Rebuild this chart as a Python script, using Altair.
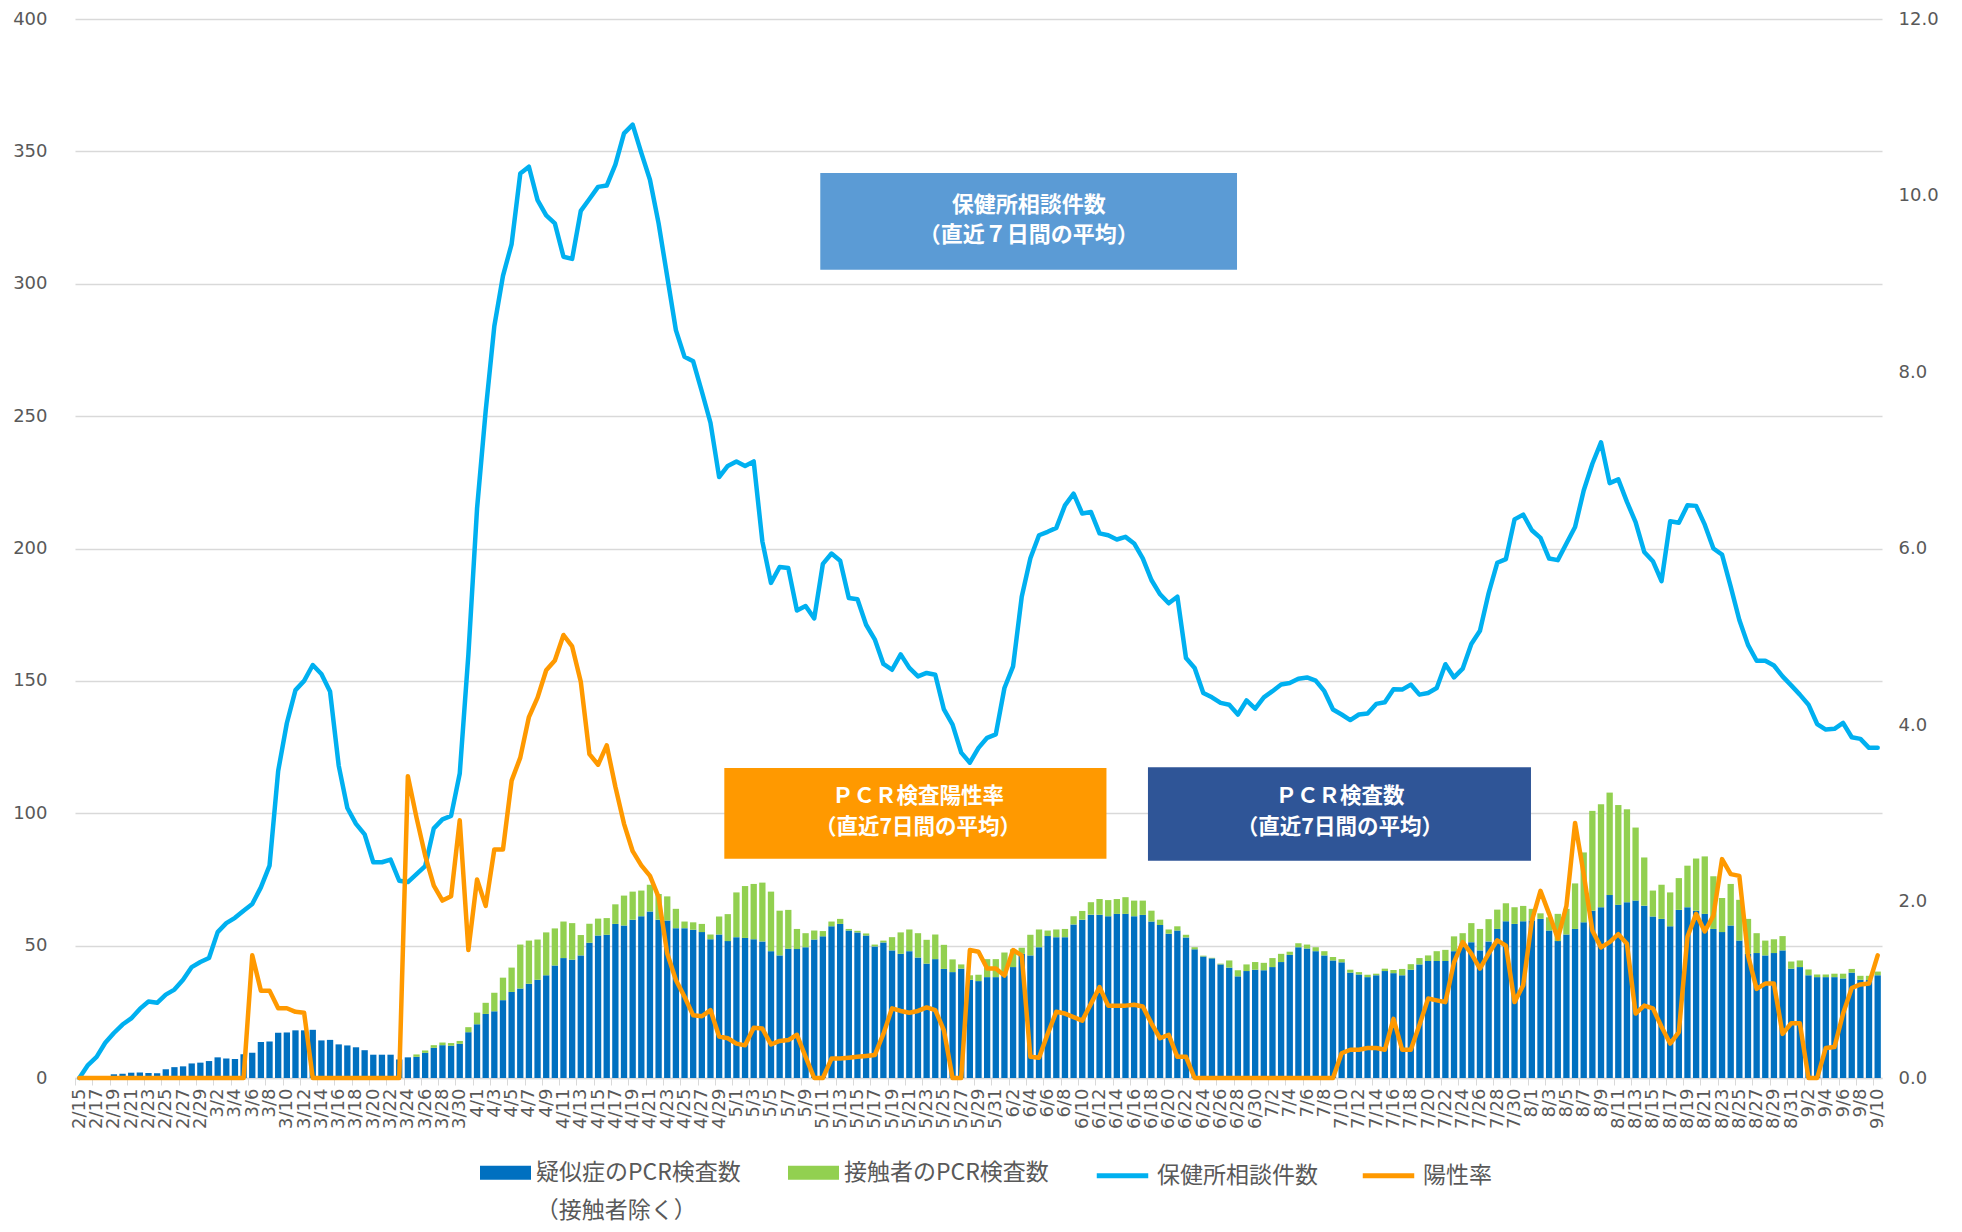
import json
import altair as alt
import pandas as pd

# ---- categories -------------------------------------------------------------
dates = [f"{d.month}/{d.day}" for d in pd.date_range("2020-02-15", "2020-09-10", freq="D")]

BAR_SERIES = ["疑似症のPCR検査数", "接触者のPCR検査数"]
LINE_SERIES = ["保健所相談件数", "陽性率"]

# ---- series values ---------------------------------------------------------
suspect_pcr = [
    0, 0.2, 0.3, 0.5, 1.4, 1.6, 2.0, 2.1, 1.9, 1.8,
    3.3, 4.1, 4.4, 5.5, 5.8, 6.4, 7.8, 7.4, 7.2, 9.0,
    9.5, 13.6, 13.8, 17.1, 17.2, 18.0, 18.0, 18.2, 14.2, 14.4,
    12.7, 12.3, 11.6, 10.5, 8.8, 8.8, 8.8, 7.0, 7.8, 8.0,
    9.5, 11.4, 12.4, 12.2, 12.9, 17.3, 20.3, 24.2, 25.2, 29.4,
    32.5, 33.8, 35.6, 37.1, 38.8, 42.5, 45.3, 44.7, 46.3, 51.1,
    53.8, 54.1, 58.2, 57.6, 59.8, 61.1, 62.9, 59.8, 59.5, 56.6,
    56.6, 56.0, 55.1, 52.4, 54.2, 51.7, 53.2, 52.9, 52.4, 51.6,
    47.9, 46.3, 48.8, 48.7, 49.4, 52.3, 53.5, 57.3, 58.2, 55.7,
    55.0, 53.8, 49.7, 51.2, 48.2, 46.9, 47.9, 45.5, 43.2, 44.9,
    41.2, 40.0, 41.3, 37.1, 36.6, 38.1, 38.1, 38.8, 41.9, 46.9,
    46.3, 49.4, 53.6, 53.2, 53.2, 58.0, 59.8, 61.7, 61.7, 61.1,
    62.0, 62.0, 61.1, 61.6, 59.1, 57.8, 54.5, 55.7, 53.1, 48.6,
    45.9, 45.2, 42.9, 41.7, 38.4, 40.4, 40.9, 40.7, 41.9, 43.8,
    46.5, 49.4, 48.9, 47.9, 46.3, 44.4, 43.7, 39.8, 39.1, 38.1,
    38.8, 40.4, 39.6, 38.8, 40.9, 42.9, 44.2, 44.2, 44.2, 47.9,
    50.9, 51.3, 48.2, 51.6, 56.3, 59.2, 58.2, 59.2, 59.5, 60.1,
    55.7, 51.7, 54.2, 56.3, 58.8, 63.2, 64.5, 69.1, 65.4, 66.4,
    67.0, 65.1, 61.0, 60.1, 57.3, 63.5, 64.5, 63.2, 62.0, 56.3,
    55.1, 57.6, 51.9, 46.9, 47.2, 46.3, 47.2, 48.2, 41.3, 41.9,
    38.8, 38.1, 38.1, 38.1, 37.6, 39.8, 37.1, 37.0, 38.8,
]

contact_pcr = [
    0, 0, 0, 0, 0, 0, 0, 0, 0, 0,
    0, 0, 0, 0, 0, 0, 0, 0, 0, 0,
    0, 0, 0, 0, 0, 0, 0, 0, 0, 0,
    0, 0, 0, 0, 0, 0, 0, 0, 0, 0.9,
    0.9, 1.0, 1.0, 1.0, 1.1, 1.9, 4.4, 4.2, 7.0, 8.5,
    9.2, 16.6, 16.3, 15.2, 16.2, 14.0, 13.8, 13.8, 7.7, 7.2,
    6.4, 6.3, 7.4, 11.3, 10.6, 9.7, 10.1, 9.7, 9.1, 7.3,
    2.5, 2.8, 3.1, 1.8, 6.8, 10.2, 16.9, 19.6, 20.9, 22.2,
    22.5, 16.9, 14.7, 7.6, 5.3, 3.4, 2.0, 1.8, 1.9, 0.6,
    0.6, 0.8, 0.7, 0.7, 5.0, 8.1, 8.2, 9.2, 9.0, 9.3,
    9.1, 4.8, 1.6, 1.7, 2.4, 6.8, 6.8, 8.6, 6.7, 2.3,
    7.8, 6.7, 2.1, 2.9, 3.1, 3.1, 3.3, 4.7, 5.9, 6.1,
    5.6, 6.3, 5.9, 5.4, 4.1, 2.0, 1.6, 1.6, 1.0, 0.8,
    0.3, 0.2, 0.3, 2.7, 2.3, 2.5, 2.9, 2.8, 3.4, 3.1,
    1.2, 1.5, 1.5, 1.5, 1.6, 1.3, 1.2, 1.1, 0.9, 0.9,
    0.6, 0.9, 1.2, 2.4, 2.1, 2.4, 2.1, 3.7, 4.2, 5.6,
    3.8, 7.2, 8.1, 8.4, 7.3, 6.8, 6.3, 5.8, 4.4, 2.1,
    5.0, 10.3, 9.7, 17.2, 26.4, 37.7, 38.9, 38.7, 37.7, 35.1,
    27.6, 18.2, 9.8, 12.9, 12.8, 12.0, 15.7, 19.7, 21.7, 19.9,
    12.9, 15.7, 15.4, 13.2, 7.5, 5.6, 5.2, 5.4, 2.7, 2.5,
    2.2, 1.0, 1.0, 1.3, 1.8, 1.4, 1.5, 1.6, 1.4,
]

consultations = [
    0, 4.9, 8.0, 13.3, 17.0, 20.2, 22.5, 26.1, 28.9, 28.4,
    31.5, 33.4, 37.1, 41.9, 43.8, 45.3, 55.1, 58.5, 60.5, 63.2,
    65.7, 72.0, 80.2, 116.0, 134.0, 146.5, 150.0, 156.0, 152.6, 146.0,
    118.0, 102.0, 96.0, 92.0, 81.5, 81.5, 82.5, 74.5, 74.0, 77.0,
    80.0, 94.3, 97.7, 99.0, 115.0, 160.0, 215.0, 252.0, 284.0, 303.0,
    315.0, 341.6, 344.2, 331.6, 325.8, 322.8, 310.2, 309.4, 327.5, 332.0,
    336.6, 337.1, 345.0, 356.8, 360.1, 349.4, 339.3, 322.8, 302.7, 282.5,
    272.4, 270.7, 259.3, 247.5, 227.0, 231.2, 232.9, 231.2, 232.9, 202.7,
    187.0, 193.0, 192.6, 176.6, 178.3, 173.6, 194.2, 198.1, 195.4, 181.3,
    180.8, 171.2, 165.7, 156.4, 154.2, 160.0, 154.9, 151.7, 153.0, 152.3,
    139.2, 133.5, 122.9, 119.1, 124.7, 128.5, 129.8, 147.3, 155.5, 181.8,
    196.3, 205.0, 206.3, 207.8, 216.3, 220.7, 213.2, 213.8, 205.7, 205.0,
    203.4, 204.4, 201.9, 196.3, 188.1, 182.7, 179.3, 181.8, 158.6, 154.9,
    145.4, 143.8, 141.7, 141.0, 137.3, 142.6, 139.5, 143.8, 146.1, 148.6,
    149.2, 150.8, 151.3, 150.1, 146.1, 139.2, 137.3, 135.2, 137.3, 137.7,
    141.3, 141.9, 146.8, 146.7, 148.6, 144.8, 145.4, 147.3, 156.3, 151.3,
    154.6, 163.9, 168.9, 183.1, 194.6, 196.0, 211.0, 212.8, 206.9, 204.0,
    196.2, 195.6, 201.9, 208.1, 221.9, 232.0, 240.1, 224.7, 226.1, 217.6,
    210.0, 198.7, 195.2, 187.7, 210.3, 209.7, 216.3, 216.1, 209.0, 200.0,
    197.7, 185.6, 173.0, 163.6, 157.6, 157.6, 155.8, 151.7, 148.3, 144.8,
    141.0, 133.7, 131.6, 131.9, 134.1, 128.7, 128.1, 124.7, 124.7,
]

positive_rate = [
    0, 0, 0, 0, 0, 0, 0, 0, 0, 0,
    0, 0, 0, 0, 0, 0, 0, 0, 0, 0,
    1.39, 0.99, 0.99, 0.79, 0.79, 0.75, 0.74, 0, 0, 0,
    0, 0, 0, 0, 0, 0, 0, 0, 3.42, 2.95,
    2.52, 2.18, 2.01, 2.06, 2.92, 1.45, 2.25, 1.95, 2.59, 2.59,
    3.37, 3.63, 4.09, 4.31, 4.62, 4.73, 5.02, 4.89, 4.49, 3.67,
    3.55, 3.77, 3.30, 2.88, 2.57, 2.41, 2.29, 2.05, 1.41, 1.11,
    0.92, 0.71, 0.70, 0.77, 0.47, 0.45, 0.39, 0.37, 0.57, 0.56,
    0.38, 0.42, 0.43, 0.49, 0.24, 0, 0, 0.22, 0.22, 0.23,
    0.24, 0.25, 0.26, 0.50, 0.79, 0.76, 0.74, 0.76, 0.80, 0.77,
    0.54, 0, 0, 1.45, 1.43, 1.24, 1.24, 1.16, 1.45, 1.39,
    0.24, 0.23, 0.50, 0.75, 0.73, 0.69, 0.65, 0.84, 1.03, 0.82,
    0.82, 0.82, 0.83, 0.81, 0.62, 0.45, 0.49, 0.24, 0.24, 0,
    0, 0, 0, 0, 0, 0, 0, 0, 0, 0,
    0, 0, 0, 0, 0, 0, 0.28, 0.32, 0.32, 0.34,
    0.34, 0.32, 0.67, 0.32, 0.32, 0.60, 0.90, 0.88, 0.86, 1.31,
    1.54, 1.41, 1.24, 1.41, 1.56, 1.50, 0.86, 1.05, 1.78, 2.12,
    1.86, 1.58, 1.95, 2.89, 2.31, 1.67, 1.48, 1.54, 1.63, 1.52,
    0.73, 0.82, 0.79, 0.58, 0.39, 0.52, 1.60, 1.86, 1.66, 1.84,
    2.48, 2.31, 2.29, 1.39, 1.01, 1.07, 1.07, 0.50, 0.62, 0.62,
    0, 0, 0.34, 0.35, 0.73, 1.02, 1.06, 1.07, 1.39,
]

n = len(dates)
assert len(suspect_pcr) == n and len(contact_pcr) == n
assert len(consultations) == n and len(positive_rate) == n

# ---- annotation boxes (in data units: day index / left-axis value) ----------
box_labels = [
    ["保健所相談件数", "（直近７日間の平均）"],
    ["ＰＣＲ検査陽性率", "（直近7日間の平均）"],
    ["ＰＣＲ検査数", "（直近7日間の平均）"],
]
box_x = [(86.2, 134.4), (75.1, 119.3), (124.1, 168.4)]
box_y = [(305.3, 341.8), (82.8, 117.1), (82.1, 117.4)]
box_text_x = [110.3, 97.5, 146.3]
box_text_y = [(329.9, 318.3), (106.2, 94.6), (106.2, 94.6)]
box_colors = ["#5B9BD5", "#FF9900", "#2F5597"]
box_font = [22, 21.5, 21.5]

df = pd.DataFrame({
    "day": list(range(n)),
    "date": dates,
    "suspect": suspect_pcr,
    "contact": contact_pcr,
    "consult": consultations,
    "rate": positive_rate,
})

GREY = "#595959"
AXIS_FONT = "DejaVu Sans"
JP_FONT = "Noto Sans CJK JP"

xscale = alt.Scale(domain=[0, n], nice=False, zero=False)
yl_scale = alt.Scale(domain=[0, 400], nice=False)
yr_scale = alt.Scale(domain=[0, 12], nice=False)

xaxis = alt.Axis(
    values=list(range(0, n, 2)),
    labelExpr=json.dumps(dates, ensure_ascii=False) + "[datum.value]",
    labelAngle=270, labelAlign="right", labelBaseline="middle",
    labelOffset=4.32, labelFont=AXIS_FONT, labelFontSize=18, labelColor=GREY,
    labelPadding=3, labelOverlap=False, labelFlush=False, labelBound=False,
    tickColor="#D9D9D9", tickSize=7, tickWidth=1,
    domainColor="#D9D9D9", domainWidth=1.3, grid=False, title=None,
)
yaxis_left = alt.Axis(
    values=list(range(0, 401, 50)), title=None, domain=False, ticks=False,
    labelFont=AXIS_FONT, labelFontSize=18, labelColor=GREY, labelPadding=28,
    gridColor="#D9D9D9", gridWidth=1.3,
)
yaxis_right = alt.Axis(
    values=[0, 2, 4, 6, 8, 10, 12], format=".1f", orient="right", title=None,
    domain=False, ticks=False, grid=False,
    labelFont=AXIS_FONT, labelFontSize=18, labelColor=GREY, labelPadding=16,
)

color_scale = alt.Scale(domain=BAR_SERIES, range=["#0070C0", "#92D050"])
stroke_scale = alt.Scale(domain=LINE_SERIES, range=["#00B0F0", "#FF9900"])

bar_legend = alt.Legend(
    title=None, orient="none", legendX=405, legendY=1128, direction="horizontal",
    symbolType="M-1,-0.27H1V0.27H-1Z", symbolSize=2601, symbolStrokeWidth=0,
    labelFont=JP_FONT, labelFontSize=23, labelColor=GREY, labelOffset=5,
    labelLimit=400, columnPadding=47,
)
line_legend = alt.Legend(
    title=None, orient="none", legendX=1019, legendY=1128, direction="horizontal",
    symbolType="stroke", symbolSize=2650, symbolStrokeWidth=5,
    labelFont=JP_FONT, labelFontSize=23, labelColor=GREY, labelOffset=6,
    labelLimit=400, columnPadding=34,
)

base = alt.Chart(df).transform_calculate(
    xl="datum.day + 0.135",
    xr="datum.day + 0.865",
    xc="datum.day + 0.5",
    total="datum.suspect + datum.contact",
)

bar_blue = base.transform_calculate(series=f"'{BAR_SERIES[0]}'").mark_bar().encode(
    x=alt.X("xl:Q", scale=xscale, axis=xaxis),
    x2="xr:Q",
    y=alt.Y("suspect:Q", scale=yl_scale, axis=yaxis_left, stack=None),
    y2=alt.datum(0),
    color=alt.Color("series:N", scale=color_scale, legend=bar_legend),
)
bar_green = base.transform_calculate(series=f"'{BAR_SERIES[1]}'").mark_bar().encode(
    x=alt.X("xl:Q", scale=xscale, axis=xaxis),
    x2="xr:Q",
    y=alt.Y("suspect:Q", scale=yl_scale, axis=yaxis_left, stack=None),
    y2="total:Q",
    color=alt.Color("series:N", scale=color_scale, legend=bar_legend),
)
line_consult = base.transform_calculate(lseries=f"'{LINE_SERIES[0]}'").mark_line(
    strokeWidth=4.5, strokeJoin="round", strokeCap="round"
).encode(
    x=alt.X("xc:Q", scale=xscale, axis=xaxis),
    y=alt.Y("consult:Q", scale=yl_scale, axis=yaxis_left),
    stroke=alt.Stroke("lseries:N", scale=stroke_scale, legend=line_legend),
)
line_rate = base.transform_calculate(lseries=f"'{LINE_SERIES[1]}'").mark_line(
    strokeWidth=4.5, strokeJoin="round", strokeCap="round"
).encode(
    x=alt.X("xc:Q", scale=xscale, axis=xaxis),
    y=alt.Y("rate:Q", scale=yr_scale, axis=yaxis_right),
    stroke=alt.Stroke("lseries:N", scale=stroke_scale, legend=line_legend),
)

ann_layers = []
for k in range(len(box_labels)):
    rect_df = pd.DataFrame({"x0": [box_x[k][0]], "x1": [box_x[k][1]],
                            "y0": [box_y[k][0]], "y1": [box_y[k][1]]})
    ann_layers.append(
        alt.Chart(rect_df).mark_rect(color=box_colors[k]).encode(
            x=alt.X("x0:Q", scale=xscale, axis=xaxis), x2="x1:Q",
            y=alt.Y("y0:Q", scale=yl_scale, axis=yaxis_left), y2="y1:Q",
        )
    )
    txt_df = pd.DataFrame({"tx": [box_text_x[k]] * 2,
                           "ty": list(box_text_y[k]),
                           "label": box_labels[k]})
    ann_layers.append(
        alt.Chart(txt_df).mark_text(
            color="white", font=JP_FONT, fontWeight="bold", fontSize=box_font[k],
            align="center", baseline="middle",
        ).encode(
            x=alt.X("tx:Q", scale=xscale, axis=xaxis),
            y=alt.Y("ty:Q", scale=yl_scale, axis=yaxis_left),
            text="label:N",
        )
    )

# second line of the first legend entry
caption_df = pd.DataFrame({"tx": [53.3], "ty": [-50.3], "label": ["（接触者除く）"]})
caption = alt.Chart(caption_df).mark_text(
    color=GREY, font=JP_FONT, fontSize=23, align="left", baseline="middle",
).encode(
    x=alt.X("tx:Q", scale=xscale, axis=xaxis),
    y=alt.Y("ty:Q", scale=yl_scale, axis=yaxis_left),
    text="label:N",
)

left = alt.layer(bar_blue, bar_green, line_consult, *ann_layers, caption)

chart = alt.layer(left, line_rate).resolve_scale(y="independent").properties(
    width=1807, height=1059,
    autosize=alt.AutoSizeParams(type="none"),
    padding={"left": 67, "top": 11, "right": 72, "bottom": 146},
    background="white",
).configure_view(strokeWidth=0)

chart.save("out.html", embed_options={"renderer": "svg", "actions": False})
